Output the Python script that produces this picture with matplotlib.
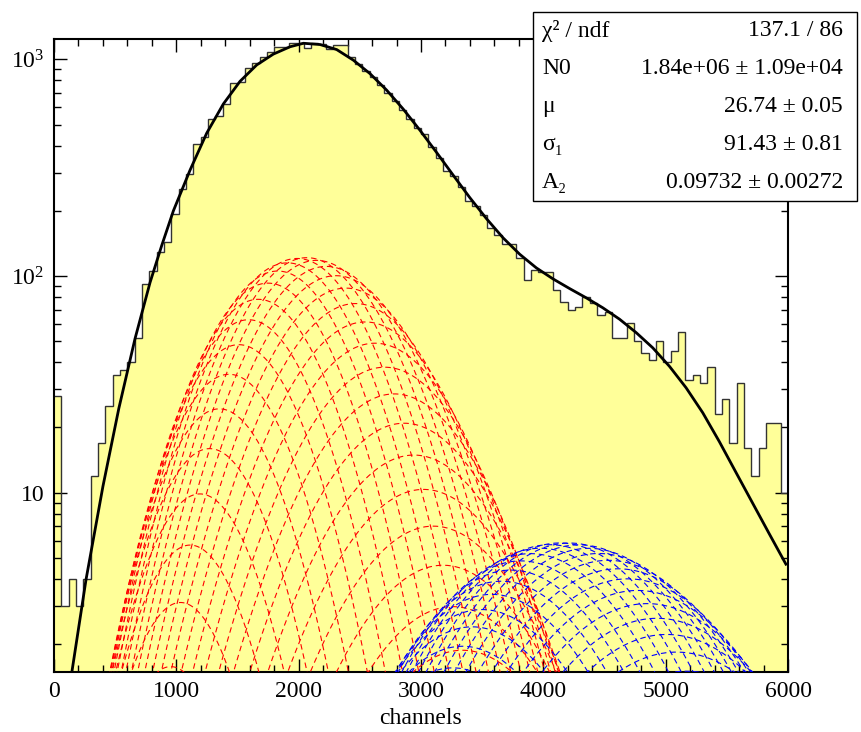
import math
import numpy as np
import matplotlib
matplotlib.use("Agg")
import matplotlib.pyplot as plt
from matplotlib.patches import Rectangle
from matplotlib.ticker import MultipleLocator, FixedLocator, NullFormatter

plt.rcParams['font.family'] = ['Liberation Serif', 'DejaVu Serif']
plt.rcParams['mathtext.fontset'] = 'custom'
plt.rcParams['mathtext.rm'] = 'Liberation Serif'

# histogram contents, 100 bins of 60 channels (0..6000)
counts = [28, 3, 4, 3, 4, 12, 17, 25, 35, 37,
          40, 52, 92, 105, 129, 144, 194, 251, 296, 406,
          437, 528, 547, 622, 775, 785, 908, 960, 1030, 1084,
          1143, 1143, 1186, 1190, 1133, 1190, 1180, 1112, 1160, 1165,
          1030, 950, 880, 830, 760, 700, 640, 585, 530, 480,
          450, 395, 352, 305, 290, 258, 222, 210, 191, 166,
          154, 141, 141, 121, 96, 107, 104, 104, 86, 76,
          70, 72, 80, 75, 66, 68, 52, 52, 61, 50,
          44, 41, 50, 40, 45, 55, 33, 35, 32, 38,
          23, 27, 17, 32, 16, 12, 16, 21, 21, 10]
x_min, x_max = 0, 6000

# total fit curve
fit_x = [147, 262, 400, 530, 662, 785, 880, 976, 1112, 1248, 1384, 1521,
         1657, 1793, 1930, 2039, 2175, 2311, 2447, 2583, 2719, 2855, 2991,
         3127, 3263, 3399, 3535, 3671, 3807, 3943, 4079, 4215, 4351, 4487,
         4623, 4759, 4895, 5031, 5167, 5303, 5439, 5575, 5711, 5847, 5983]
fit_y = [1.5, 3.98, 10.7, 24.5, 51.3, 93.3, 138, 200, 308, 456, 622, 792,
         942, 1057, 1143, 1186, 1170, 1109, 991, 859, 721, 589, 471,
         372, 292, 230, 184, 150, 126, 109, 97.0, 87.5, 79.3, 71.3,
         63.2, 54.8, 46.6, 38.3, 30.5, 23.4, 17.2, 12.4, 8.95, 6.46, 4.68]

# fit parameters from the stats box, gain per photoelectron
N0 = 1.84e6
mu = 26.74
sigma1 = 91.43
A2 = 0.09732
gain = 79.5

stat_labels = ['χ² / ndf', 'N0', 'μ', 'σ₁', 'A₂']
stat_values = ['137.1 / 86', '1.84e+06 ± 1.09e+04', '26.74 ± 0.05',
               '91.43 ± 0.81', '0.09732 ± 0.00272']

W, H = 861, 732
fig = plt.figure(figsize=(W / 100, H / 100), dpi=100)
ax = fig.add_axes([54 / W, 1 - 671.7 / H, (788 - 54) / W, (671.7 - 39) / H])
ax.set_yscale('log')

edges = np.linspace(x_min, x_max, len(counts) + 1)
ax.stairs(counts, edges, baseline=0.5, fill=True, color='#ffff99', zorder=1)
ax.stairs(counts, edges, baseline=None, color='#333333', lw=1.0, zorder=2)

xx = np.linspace(x_min, x_max, 1201)


def component(n, mean_n, scale):
    p = math.exp(n * math.log(mean_n) - mean_n - math.lgamma(n + 1))
    s = math.sqrt(n) * sigma1
    y = scale * p * np.exp(-0.5 * ((xx - n * gain) / s) ** 2) / (math.sqrt(2 * math.pi) * s)
    y[y < 0.3] = np.nan
    return y


for n in range(1, 71):
    ax.plot(xx, component(n, mu, N0), color='red', lw=0.8, dashes=(5, 3.5), zorder=3)
for n in range(1, 131):
    ax.plot(xx, component(n, 2 * mu, N0 * A2), color='blue', lw=0.8, dashes=(5, 3.5), zorder=3)

ax.plot(fit_x, fit_y, color='black', lw=2.0, zorder=4, solid_joinstyle='round')

ax.set_xlim(x_min, x_max)
ax.set_ylim(1.493, 1241)

ax.xaxis.set_major_locator(MultipleLocator(1000))
ax.xaxis.set_minor_locator(MultipleLocator(200))
ax.yaxis.set_major_locator(FixedLocator([10, 100, 1000]))
ax.yaxis.set_minor_locator(FixedLocator([d * m for d in (1, 10, 100) for m in range(2, 10)]))
ax.yaxis.set_minor_formatter(NullFormatter())
ax.set_yticklabels(['10', r'$\mathregular{10^{2}}$', r'$\mathregular{10^{3}}$'])

ax.tick_params(which='both', direction='in', top=True, right=True, labelsize=17, width=1.0)
ax.tick_params(which='major', length=9.5)
ax.tick_params(which='minor', length=5)
ax.tick_params(axis='x', pad=7)
ax.tick_params(axis='y', pad=7)
for sp in ax.spines.values():
    sp.set_linewidth(1.5)

ax.set_xlabel('channels', fontsize=17, labelpad=4)

# stats box
bx0, bx1, by0, by1 = 533, 857, 12, 201
fig.add_artist(Rectangle((bx0 / W, 1 - by1 / H), (bx1 - bx0) / W, (by1 - by0) / H,
                         transform=fig.transFigure, facecolor='white',
                         edgecolor='black', lw=1.0, zorder=10))
row_h = (by1 - by0) / len(stat_labels)
for i, (lab, val) in enumerate(zip(stat_labels, stat_values)):
    yc = 1 - (by0 + row_h * (i + 0.5)) / H
    fig.text(542 / W, yc, lab, fontsize=17, ha='left', va='center', zorder=11)
    fig.text(843 / W, yc, val, fontsize=17, ha='right', va='center', zorder=11)

fig.savefig('out.png', dpi=100)
